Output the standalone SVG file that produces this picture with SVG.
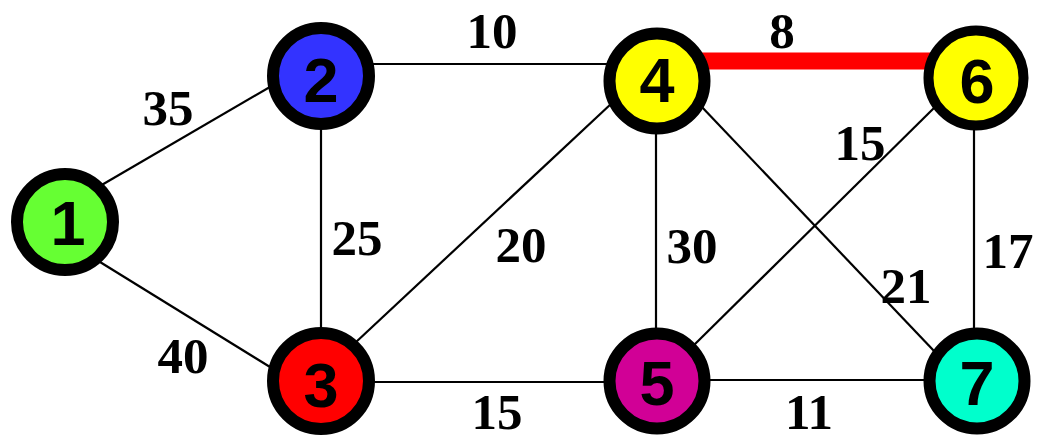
<svg xmlns="http://www.w3.org/2000/svg" width="1037" height="440" viewBox="0 0 1037 440">
<style>
.e{stroke:#000;stroke-width:2.2;fill:none}
.hl{stroke:#FF0000;stroke-width:17;fill:none}
.n{stroke:#000;stroke-width:12}
.nl{font-family:"Liberation Sans",Arial,sans-serif;font-weight:bold;font-size:63px;text-anchor:middle;fill:#000}
.w{font-family:"Liberation Serif","Times New Roman",serif;font-weight:bold;font-size:51px;text-anchor:middle;fill:#000}
</style>
<rect width="1037" height="440" fill="#fff"/>
<g id="connectors">
<line class="e" x1="100" y1="186" x2="275" y2="84"/>
<line class="e" x1="100" y1="262" x2="270" y2="367"/>
<line class="e" x1="321" y1="120" x2="321" y2="340"/>
<line class="e" x1="370" y1="64" x2="610" y2="64"/>
<line class="e" x1="355" y1="343" x2="612" y2="103"/>
<line class="e" x1="370" y1="382" x2="610" y2="382"/>
<line class="e" x1="700" y1="380" x2="930" y2="380"/>
<line class="e" x1="656" y1="120" x2="656" y2="340"/>
<line class="e" x1="700" y1="105" x2="935" y2="352"/>
<line class="e" x1="692" y1="347" x2="935" y2="107"/>
<line class="e" x1="974" y1="120" x2="974" y2="340"/>
<line class="hl" x1="700" y1="61" x2="935" y2="61"/>
<g id="weights">
<text class="w" x="168" y="125">35</text>
<text class="w" x="183" y="373">40</text>
<text class="w" x="357" y="255">25</text>
<text class="w" x="492" y="48">10</text>
<text class="w" x="521" y="262">20</text>
<text class="w" x="497" y="429">15</text>
<text class="w" x="782" y="48">8</text>
<text class="w" x="692" y="263">30</text>
<text class="w" x="860" y="160">15</text>
<text class="w" x="906" y="303">21</text>
<text class="w" x="1008" y="268">17</text>
<text class="w" x="809" y="429">11</text>
</g>
</g>
<g id="node1"><circle class="n" cx="65" cy="222" r="48" fill="#66FF33"/><text class="nl" x="68" y="245">1</text></g>
<g id="node2"><circle class="n" cx="321" cy="76" r="48" fill="#3333FF"/><text class="nl" x="321" y="102">2</text></g>
<g id="node3"><circle class="n" cx="321" cy="381" r="48" fill="#FF0000"/><text class="nl" x="321" y="407">3</text></g>
<g id="node4"><circle class="n" cx="657" cy="81" r="47.5" fill="#FFFF00"/><text class="nl" x="657" y="102">4</text></g>
<g id="node5"><circle class="n" cx="657" cy="381" r="47.5" fill="#D10096"/><text class="nl" x="657" y="405">5</text></g>
<g id="node6"><circle class="n" cx="976" cy="78" r="47.5" fill="#FFFF00" style="stroke-width:10"/><text class="nl" x="977" y="103">6</text></g>
<g id="node7"><circle class="n" cx="977" cy="381" r="47.5" fill="#00FFCC"/><text class="nl" x="977" y="405">7</text></g>
</svg>
